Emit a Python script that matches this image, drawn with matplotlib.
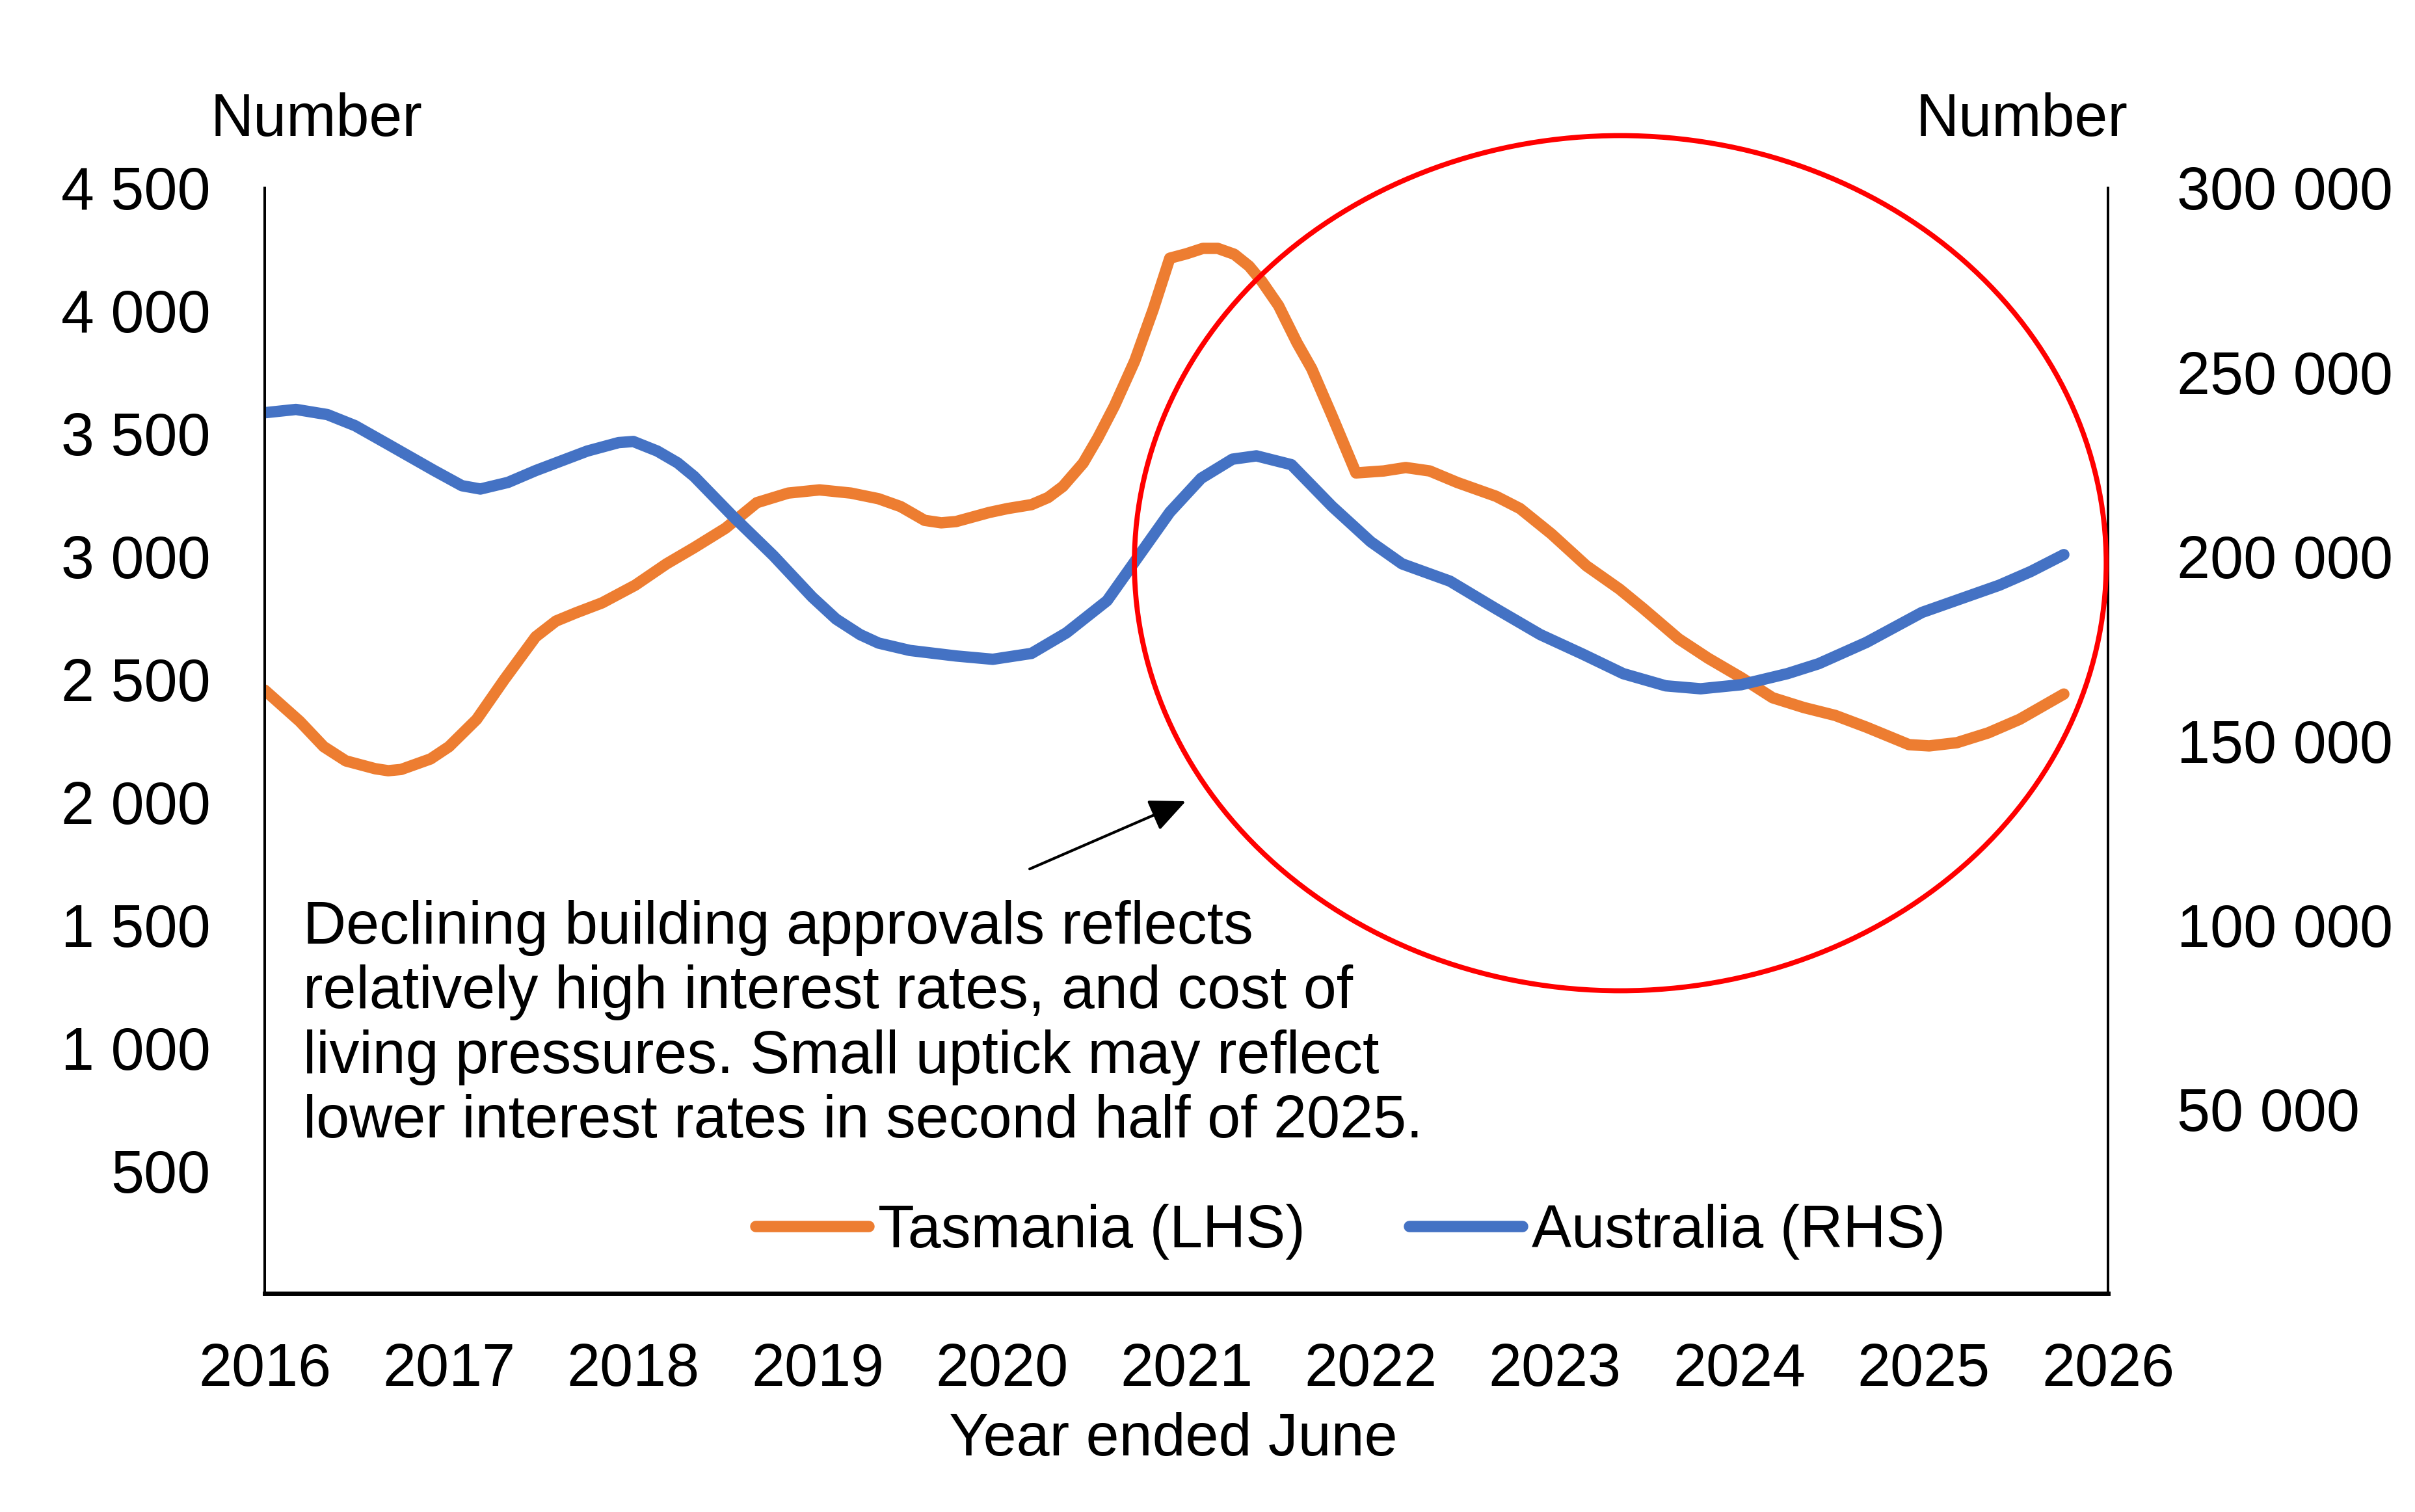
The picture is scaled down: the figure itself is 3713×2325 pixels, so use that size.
import matplotlib
matplotlib.use("Agg")
import matplotlib.pyplot as plt
from matplotlib.patches import Ellipse
from matplotlib.ticker import FuncFormatter

plt.rcParams["font.family"] = ["Liberation Sans", "DejaVu Sans"]
plt.rcParams["font.size"] = 33

# Tasmania dwelling approvals (LHS)
tas_x = [2016.00, 2016.19, 2016.32, 2016.44, 2016.60, 2016.67, 2016.74, 2016.90,
         2017.00, 2017.15, 2017.30, 2017.47, 2017.58, 2017.69, 2017.83, 2018.01,
         2018.18, 2018.33, 2018.50, 2018.67, 2018.84, 2019.01, 2019.18, 2019.33,
         2019.45, 2019.58, 2019.67, 2019.75, 2019.93, 2020.03, 2020.16, 2020.25,
         2020.33, 2020.44, 2020.52, 2020.61, 2020.72, 2020.82, 2020.91, 2021.00,
         2021.09, 2021.17, 2021.26, 2021.34, 2021.41, 2021.50, 2021.60, 2021.68,
         2021.79, 2021.92, 2022.07, 2022.19, 2022.32, 2022.47, 2022.68, 2022.81,
         2022.98, 2023.17, 2023.35, 2023.48, 2023.67, 2023.83, 2024.01, 2024.18,
         2024.35, 2024.52, 2024.69, 2024.92, 2025.03, 2025.18, 2025.35, 2025.52,
         2025.76]
tasmania = [2456, 2329, 2226, 2168, 2136, 2128, 2133, 2176, 2226, 2337,
            2499, 2673, 2737, 2771, 2811, 2883, 2970, 3036, 3115, 3219,
            3258, 3271, 3258, 3235, 3203, 3147, 3137, 3142, 3179, 3195,
            3211, 3240, 3285, 3380, 3483, 3613, 3796, 4005, 4214, 4232,
            4254, 4254, 4230, 4182, 4119, 4021, 3870, 3764, 3573, 3340,
            3348, 3362, 3348, 3301, 3245, 3195, 3092, 2962, 2867, 2787,
            2665, 2586, 2507, 2425, 2385, 2353, 2305, 2234, 2229, 2242,
            2282, 2337, 2440]

# Australia dwelling approvals (RHS)
aus_x = [2016.00, 2016.17, 2016.34, 2016.49, 2016.66, 2016.92, 2017.07, 2017.17,
         2017.32, 2017.47, 2017.75, 2017.92, 2018.00, 2018.13, 2018.24, 2018.33,
         2018.54, 2018.76, 2018.97, 2019.10, 2019.23, 2019.33, 2019.50, 2019.75,
         2019.95, 2020.16, 2020.35, 2020.57, 2020.72, 2020.91, 2021.08, 2021.25,
         2021.38, 2021.57, 2021.79, 2022.00, 2022.17, 2022.43, 2022.68, 2022.92,
         2023.15, 2023.37, 2023.60, 2023.79, 2024.01, 2024.26, 2024.43, 2024.69,
         2024.99, 2025.20, 2025.41, 2025.58, 2025.76]
australia = [239000, 239900, 238500, 235500, 230700, 223300, 219200, 218300, 220100, 223300,
             228600, 230900, 231200, 228600, 225400, 221700, 210900, 200200, 189000, 183000,
             178800, 176500, 174500, 173000, 172100, 173700, 179300, 188000, 198600, 212000,
             221200, 226400, 227300, 224900, 213600, 204000, 198000, 193300, 185800, 178800,
             173500, 168200, 164900, 164100, 165200, 168200, 170900, 176700, 184800, 188500,
             192200, 195900, 200500]

years = list(range(2016, 2027))
left_ticks = [500, 1000, 1500, 2000, 2500, 3000, 3500, 4000, 4500]
right_ticks = [50000, 100000, 150000, 200000, 250000, 300000]

note = ("Declining building approvals reflects\n"
        "relatively high interest rates, and cost of\n"
        "living pressures. Small uptick may reflect\n"
        "lower interest rates in second half of 2025.")

ORANGE = "#ED7D31"
BLUE = "#4472C4"


def spaced(v, pos):
    return "{:,.0f}".format(v).replace(",", " ")


fig = plt.figure(figsize=(18.565, 11.625), dpi=200)
ax = fig.add_axes([0.1096, 0.1445, 0.7633, 0.7312])
ax2 = ax.twinx()

l1, = ax.plot(tas_x, tasmania, color=ORANGE, lw=6.3, solid_capstyle="round",
              solid_joinstyle="round", label="Tasmania (LHS)")
l2, = ax2.plot(aus_x, australia, color=BLUE, lw=6.3, solid_capstyle="round",
               solid_joinstyle="round", label="Australia (RHS)")

ax.set_xlim(2016, 2026)
ax.set_ylim(0, 4500)
ax2.set_ylim(0, 300000)
ax.set_xticks(years)
ax.set_yticks(left_ticks)
ax2.set_yticks(right_ticks)
ax.yaxis.set_major_formatter(FuncFormatter(spaced))
ax2.yaxis.set_major_formatter(FuncFormatter(spaced))

ax.tick_params(axis="x", length=0, pad=27)
ax.tick_params(axis="y", length=0, pad=30)
ax2.tick_params(axis="y", length=0, pad=38)

for a in (ax, ax2):
    a.spines["top"].set_visible(False)
    a.spines["left"].set_linewidth(1.4)
    a.spines["right"].set_linewidth(1.4)
    a.spines["bottom"].set_linewidth(2.4)

ax.set_xlabel("Year ended June", va="center")
ax.xaxis.set_label_coords(0.493, -0.1324)

fig.text(0.1309, 0.9204, "Number", ha="center", va="center")
fig.text(0.8373, 0.9204, "Number", ha="center", va="center")

ax2.legend(handles=[l1, l2], loc="center", bbox_to_anchor=(0.589, 0.056),
           ncol=2, frameon=False, handlelength=1.9, handletextpad=0.15,
           columnspacing=1.75, borderaxespad=0)

ring = Ellipse((0.7354, 0.6606), 0.5272, 0.7735, transform=ax2.transAxes,
               fill=False, edgecolor="#FF0000", lw=2.8, clip_on=False, zorder=5)
ax2.add_patch(ring)

ax2.text(0.0208, 0.243, note, transform=ax2.transAxes, ha="left", va="center",
         linespacing=1.2)
ax2.annotate("", xy=(0.4997, 0.4453), xytext=(0.415, 0.384),
             xycoords="axes fraction", textcoords="axes fraction",
             arrowprops=dict(arrowstyle="-|>,head_length=17,head_width=7.7",
                             mutation_scale=1, lw=1.5, color="black",
                             shrinkA=0, shrinkB=0))

fig.savefig("out.png", dpi=200)
